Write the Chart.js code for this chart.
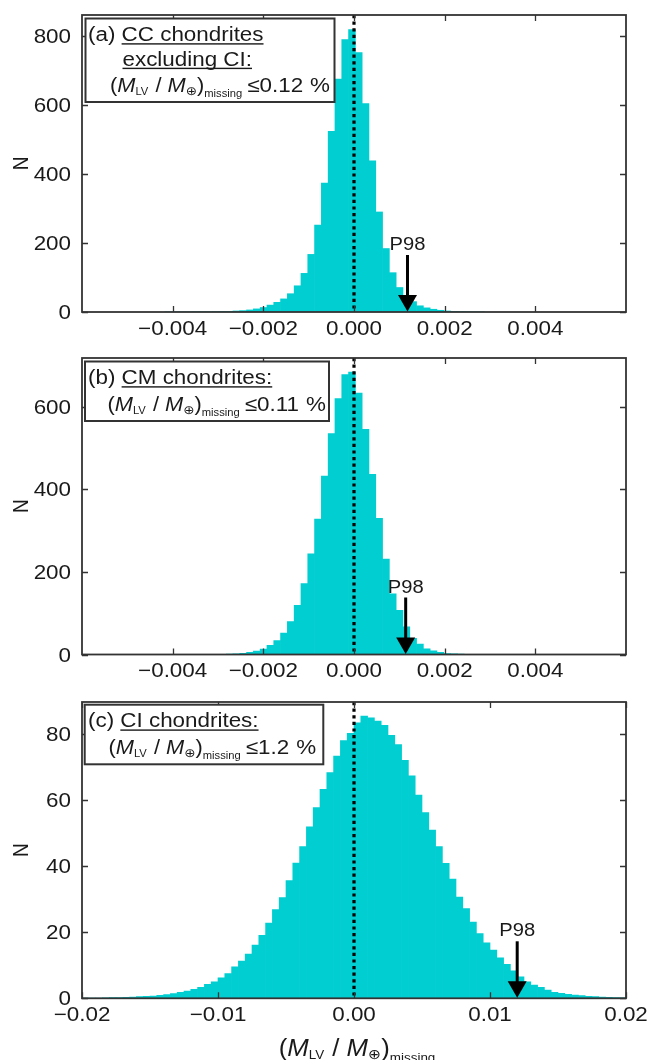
<!DOCTYPE html>
<html>
<head>
<meta charset="utf-8">
<script src="https://cdn.jsdelivr.net/npm/chart.js@4.4.1/dist/chart.umd.min.js"></script>
<style>
  html, body { margin: 0; padding: 0; background: #fff; }
  #wrap { position: relative; width: 648px; height: 1060px; overflow: hidden; }
  canvas { position: absolute; left: 0; }
</style>
</head>
<body>
<div id="wrap">
  <canvas id="chartA" width="648" height="340" style="top:0"></canvas>
  <canvas id="chartB" width="648" height="345" style="top:340px"></canvas>
  <canvas id="chartC" width="648" height="375" style="top:685px"></canvas>
</div>
<script>
// bin counts (one number per histogram bin)
const binWidthCC = 0.00015;
const firstEdgeA = -0.00417;
const countsA = [0.3, 0.5, 0.5, 0.5, 1, 1, 1, 1.5, 2, 2, 3, 4, 6, 9, 13, 20, 28, 38, 53, 76,
  112, 167, 252, 374, 524, 675, 790, 819, 752, 604, 438, 290, 184, 114, 71, 47, 30, 18,
  12, 8, 5, 3, 2, 1.5, 1, 0.5, 0.5];

const firstEdgeB = -0.00312;
const countsB = [0.3, 0.5, 1, 1.6, 3, 5, 8, 13, 22, 34, 52, 80, 119, 172, 244, 328, 432, 535,
  620, 678, 684, 633, 545, 436, 330, 231, 147, 107, 67, 39, 25, 14, 9, 5, 2.5, 1.5, 1, 0.5];

const binWidthCI = 0.0005;
const firstEdgeC = -0.02;
const countsC = [0.05, 0.1, 0.1, 0.15, 0.2, 0.25, 0.3, 0.4, 0.5, 0.6, 0.7, 0.9, 1.1, 1.4, 1.8,
  2.2, 2.7, 3.3, 4.2, 5.0, 6.2, 7.5, 9.5, 11.3, 13.4, 16.1, 19.1, 22.8, 26.9, 30.5, 35.7,
  41.0, 46.0, 52.0, 57.8, 63.3, 68.4, 73.4, 78.1, 80.3, 83.5, 85.5, 85.0, 84.0, 82.7, 79.7,
  76.9, 72.1, 67.4, 61.6, 56.3, 51.0, 46.0, 40.9, 36.1, 30.7, 27.2, 23.1, 19.6, 16.8, 14.6,
  12.3, 10.3, 8.3, 6.5, 5.0, 4.0, 3.3, 2.5, 1.8, 1.5, 1.2, 1.0, 0.8, 0.6, 0.5, 0.4, 0.3,
  0.2, 0.15];

const xTicksCC = [-0.004, -0.002, 0, 0.002, 0.004];
const xTicksCI = [-0.02, -0.01, 0, 0.01, 0.02];
const yTicksA = [0, 200, 400, 600, 800];
const yTicksB = [0, 200, 400, 600];
const yTicksC = [0, 20, 40, 60, 80];

const p98A = 0.00118;
const p98B = 0.00114;
const p98C = 0.012;

const limitA = '≤0.12', limitB = '≤0.11', limitC = '≤1.2';

const SX = 1.12; // the original figure is a bit stretched sideways
const INK = '#1a1a1a';

function font(size, italic) {
  return (italic ? 'italic ' : '') + size + 'px "Liberation Sans", Arial, sans-serif';
}

function drawRun(ctx, segs, x, y) {
  ctx.fillStyle = INK;
  segs.forEach(s => {
    ctx.font = s.fam ? s.size + 'px ' + s.fam : font(s.size, s.italic);
    let w = ctx.measureText(s.t).width * SX;
    ctx.save();
    ctx.translate(x, y + (s.dy || 0));
    ctx.scale(SX, 1);
    ctx.textAlign = 'left';
    ctx.textBaseline = 'alphabetic';
    ctx.fillText(s.t, 0, 0);
    ctx.restore();
    if (s.u) ctx.fillRect(x, y + 2.2, w, 1.4);
    x += w + (s.gap || 0);
  });
  return x;
}

function runWidth(ctx, segs) {
  let w = 0;
  segs.forEach(s => {
    ctx.font = s.fam ? s.size + 'px ' + s.fam : font(s.size, s.italic);
    w += ctx.measureText(s.t).width * SX + (s.gap || 0);
  });
  return w;
}

function text(ctx, str, x, y, size, align) {
  ctx.save();
  ctx.fillStyle = INK;
  ctx.font = font(size);
  ctx.translate(x, y);
  ctx.scale(SX, 1);
  ctx.textAlign = align;
  ctx.textBaseline = 'alphabetic';
  ctx.fillText(str, 0, 0);
  ctx.restore();
}

function ratioSegs(main, sub) {
  return [
    { t: '(', size: main },
    { t: 'M', size: main, italic: true },
    { t: 'LV', size: sub, dy: 3, gap: 1 },
    { t: ' / ', size: main },
    { t: 'M', size: main, italic: true },
    { t: '\u2295', size: sub + 2, dy: 3, fam: '"DejaVu Sans", sans-serif' },
    { t: ')', size: main },
    { t: 'missing', size: sub, dy: 5 }
  ];
}

function limitSegs(limit) {
  let segs = ratioSegs(19.5, 10);
  segs[segs.length - 1].gap = 5;
  return segs.concat([{ t: limit, size: 20, gap: 7 }, { t: '%', size: 20 }]);
}

function fmt(v, d) {
  let s = Math.abs(v).toFixed(d);
  return v < 0 ? '\u2212' + s : s;
}

const panels = [
  {
    id: 'chartA', counts: countsA, first: firstEdgeA, width: binWidthCC,
    xMin: -0.006, xMax: 0.006, yMax: 861, xTicks: xTicksCC, yTicks: yTicksA, digits: 3,
    p98: p98A, pad: { top: 15, bottom: 28, left: 82, right: 22 },
    box: { x: 85.5, y: 18.5, w: 249, h: 83.5 },
    lines: [
      { x: 88, y: 41, segs: [{ t: '(a) ', size: 20 }, { t: 'CC chondrites', size: 20, u: true }] },
      { x: 122.5, y: 65.5, segs: [{ t: 'excluding CI:', size: 20, u: true }] },
      { x: 110, y: 91.5, segs: limitSegs(limitA) }
    ]
  },
  {
    id: 'chartB', counts: countsB, first: firstEdgeB, width: binWidthCC,
    xMin: -0.006, xMax: 0.006, yMax: 718, xTicks: xTicksCC, yTicks: yTicksB, digits: 3,
    p98: p98B, pad: { top: 18, bottom: 30.5, left: 82, right: 22 },
    box: { x: 85, y: 21.5, w: 244, h: 59.5 },
    lines: [
      { x: 88, y: 44, segs: [{ t: '(b) ', size: 20 }, { t: 'CM chondrites:', size: 20, u: true }] },
      { x: 107.5, y: 71, segs: limitSegs(limitB) }
    ]
  },
  {
    id: 'chartC', counts: countsC, first: firstEdgeC, width: binWidthCI,
    xMin: -0.02, xMax: 0.02, yMax: 89.8, xTicks: xTicksCI, yTicks: yTicksC, digits: 2,
    p98: p98C, pad: { top: 17, bottom: 61.7, left: 82, right: 22 },
    box: { x: 84.7, y: 19.7, w: 238.6, h: 59.6 },
    lines: [
      { x: 88, y: 42.2, segs: [{ t: '(c) ', size: 20 }, { t: 'CI chondrites:', size: 20, u: true }] },
      { x: 108.5, y: 69.2, segs: limitSegs(limitC) }
    ],
    xTitle: true
  }
];

const decor = {
  id: 'decor',
  afterDraw(chart) {
    const p = chart.config.options.panel;
    const ctx = chart.ctx;
    const a = chart.chartArea;
    const xs = chart.scales.x, ys = chart.scales.y;

    ctx.save();
    // frame and inward ticks on all four sides
    ctx.strokeStyle = '#333';
    ctx.lineWidth = 1.8;
    ctx.strokeRect(a.left, a.top, a.right - a.left, a.bottom - a.top);
    ctx.lineWidth = 1.3;
    ctx.beginPath();
    p.xTicks.forEach(v => {
      let px = Math.round(xs.getPixelForValue(v)) + 0.5;
      ctx.moveTo(px, a.bottom); ctx.lineTo(px, a.bottom - 6);
      ctx.moveTo(px, a.top); ctx.lineTo(px, a.top + 6);
    });
    p.yTicks.forEach(v => {
      let py = Math.round(ys.getPixelForValue(v)) + 0.5;
      ctx.moveTo(a.left, py); ctx.lineTo(a.left + 6, py);
      ctx.moveTo(a.right, py); ctx.lineTo(a.right - 6, py);
    });
    ctx.stroke();

    // tick labels
    p.xTicks.forEach(v => text(ctx, fmt(v, p.digits), xs.getPixelForValue(v), a.bottom + 22.5, 20, 'center'));
    p.yTicks.forEach(v => text(ctx, String(v), a.left - 11, ys.getPixelForValue(v) + 7, 20, 'right'));

    // y axis title
    ctx.save();
    ctx.fillStyle = INK;
    ctx.font = font(19);
    ctx.translate(22, (a.top + a.bottom) / 2);
    ctx.scale(SX, 1);
    ctx.rotate(-Math.PI / 2);
    ctx.textAlign = 'center';
    ctx.textBaseline = 'middle';
    ctx.fillText('N', 0, 0);
    ctx.restore();

    // P98 arrow
    let ax = xs.getPixelForValue(p.p98);
    let yb = a.bottom;
    ctx.fillStyle = '#000';
    ctx.fillRect(ax - 1.5, yb - 57, 3, 42);
    ctx.beginPath();
    ctx.moveTo(ax - 9.5, yb - 17);
    ctx.lineTo(ax + 9.5, yb - 17);
    ctx.lineTo(ax, yb - 0.5);
    ctx.closePath();
    ctx.fill();
    text(ctx, 'P98', ax, yb - 62, 18, 'center');

    // label box
    ctx.fillStyle = '#fff';
    ctx.fillRect(p.box.x, p.box.y, p.box.w, p.box.h);
    ctx.strokeStyle = '#333';
    ctx.lineWidth = 2;
    ctx.strokeRect(p.box.x, p.box.y, p.box.w, p.box.h);
    p.lines.forEach(l => drawRun(ctx, l.segs, l.x, l.y));

    // x axis title (bottom panel only)
    if (p.xTitle) {
      let segs = ratioSegs(23, 12);
      segs[segs.length - 1].dy = 6;
      let w = runWidth(ctx, segs);
      drawRun(ctx, segs, (a.left + a.right) / 2 - w / 2 + 3, 371);
    }
    ctx.restore();
  }
};

panels.forEach(p => {
  let bars = p.counts.map((n, i) => ({ x: p.first + (i + 0.5) * p.width, y: n }));
  new Chart(document.getElementById(p.id), {
    type: 'bar',
    data: {
      datasets: [
        {
          type: 'line',
          data: [{ x: 0, y: p.yMax }, { x: 0, y: 0 }],
          borderColor: '#000',
          borderWidth: 3.2,
          borderDash: [3.2, 3.4],
          borderCapStyle: 'butt',
          pointRadius: 0,
          order: 0
        },
        {
          type: 'bar',
          data: bars,
          backgroundColor: '#00CED1',
          borderWidth: 0,
          barPercentage: 1,
          categoryPercentage: 1,
          order: 1
        }
      ]
    },
    options: {
      panel: p,
      responsive: false,
      devicePixelRatio: 1,
      animation: false,
      events: [],
      layout: { padding: p.pad },
      plugins: { legend: { display: false }, tooltip: { enabled: false } },
      scales: {
        x: {
          type: 'linear', display: false, min: p.xMin, max: p.xMax, offset: false,
          afterBuildTicks: s => { s.ticks = p.xTicks.map(v => ({ value: v })); }
        },
        y: {
          type: 'linear', display: false, min: 0, max: p.yMax,
          afterBuildTicks: s => { s.ticks = p.yTicks.map(v => ({ value: v })); }
        }
      }
    },
    plugins: [decor]
  });
});
</script>
</body>
</html>
